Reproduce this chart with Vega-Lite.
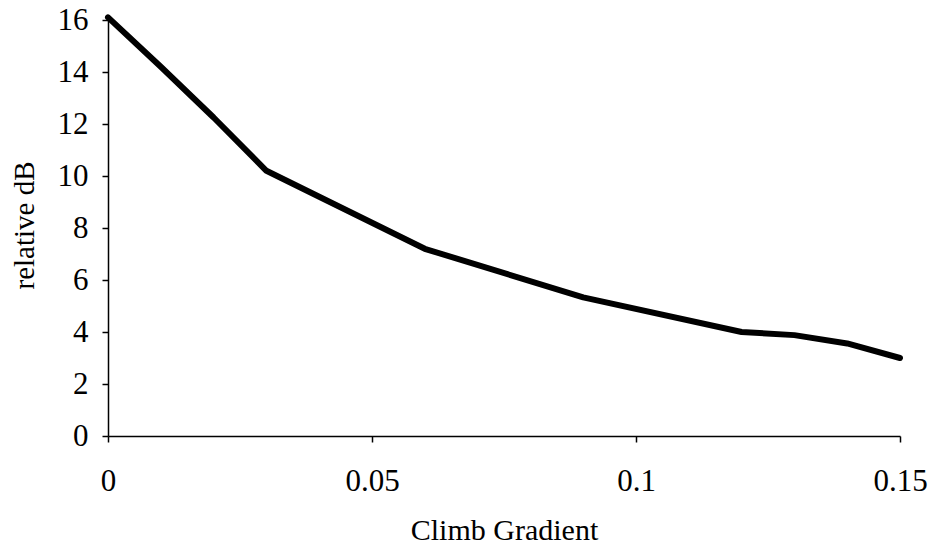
{
  "$schema": "https://vega.github.io/schema/vega-lite/v6.json",
  "autosize": {"type": "none"},
  "width": 792,
  "height": 416,
  "padding": {"left": 108, "top": 20, "right": 34, "bottom": 116},
  "background": "white",
  "config": {
    "view": {"stroke": null},
    "font": "Liberation Serif",
    "axis": {
      "grid": false,
      "domainColor": "black",
      "domainWidth": 1.5,
      "tickColor": "black",
      "tickWidth": 1.5,
      "tickSize": 6,
      "labelFlush": false,
      "labelOverlap": false,
      "labelFont": "Liberation Serif",
      "labelColor": "black",
      "titleFont": "Liberation Serif",
      "titleColor": "black",
      "titleFontWeight": "normal"
    }
  },
  "data": {
    "values": [
      {"gradient": 0, "db": 16.1},
      {"gradient": 0.01, "db": 14.2},
      {"gradient": 0.02, "db": 12.25},
      {"gradient": 0.03, "db": 10.2},
      {"gradient": 0.06, "db": 7.2},
      {"gradient": 0.09, "db": 5.33},
      {"gradient": 0.12, "db": 4.0},
      {"gradient": 0.13, "db": 3.88},
      {"gradient": 0.14, "db": 3.56},
      {"gradient": 0.15, "db": 3.0}
    ]
  },
  "mark": {"type": "line", "color": "black", "strokeWidth": 6, "strokeJoin": "round", "strokeCap": "round", "clip": false},
  "encoding": {
    "x": {
      "field": "gradient",
      "type": "quantitative",
      "scale": {"domain": [0, 0.15], "nice": false},
      "axis": {
        "title": "Climb Gradient",
        "values": [0, 0.05, 0.1, 0.15],
        "format": ".2~f",
        "labelFontSize": 31,
        "labelPadding": 24,
        "titleFontSize": 30,
        "titleY": 103,
        "titleBaseline": "alphabetic"
      }
    },
    "y": {
      "field": "db",
      "type": "quantitative",
      "scale": {"domain": [0, 16], "nice": false},
      "axis": {
        "title": "relative dB",
        "values": [0, 2, 4, 6, 8, 10, 12, 14, 16],
        "labelFontSize": 31,
        "labelPadding": 14,
        "titleFontSize": 29,
        "titleAngle": -90,
        "titleX": -75,
        "titleY": 205,
        "titleAlign": "center",
        "titleBaseline": "alphabetic"
      }
    }
  }
}
